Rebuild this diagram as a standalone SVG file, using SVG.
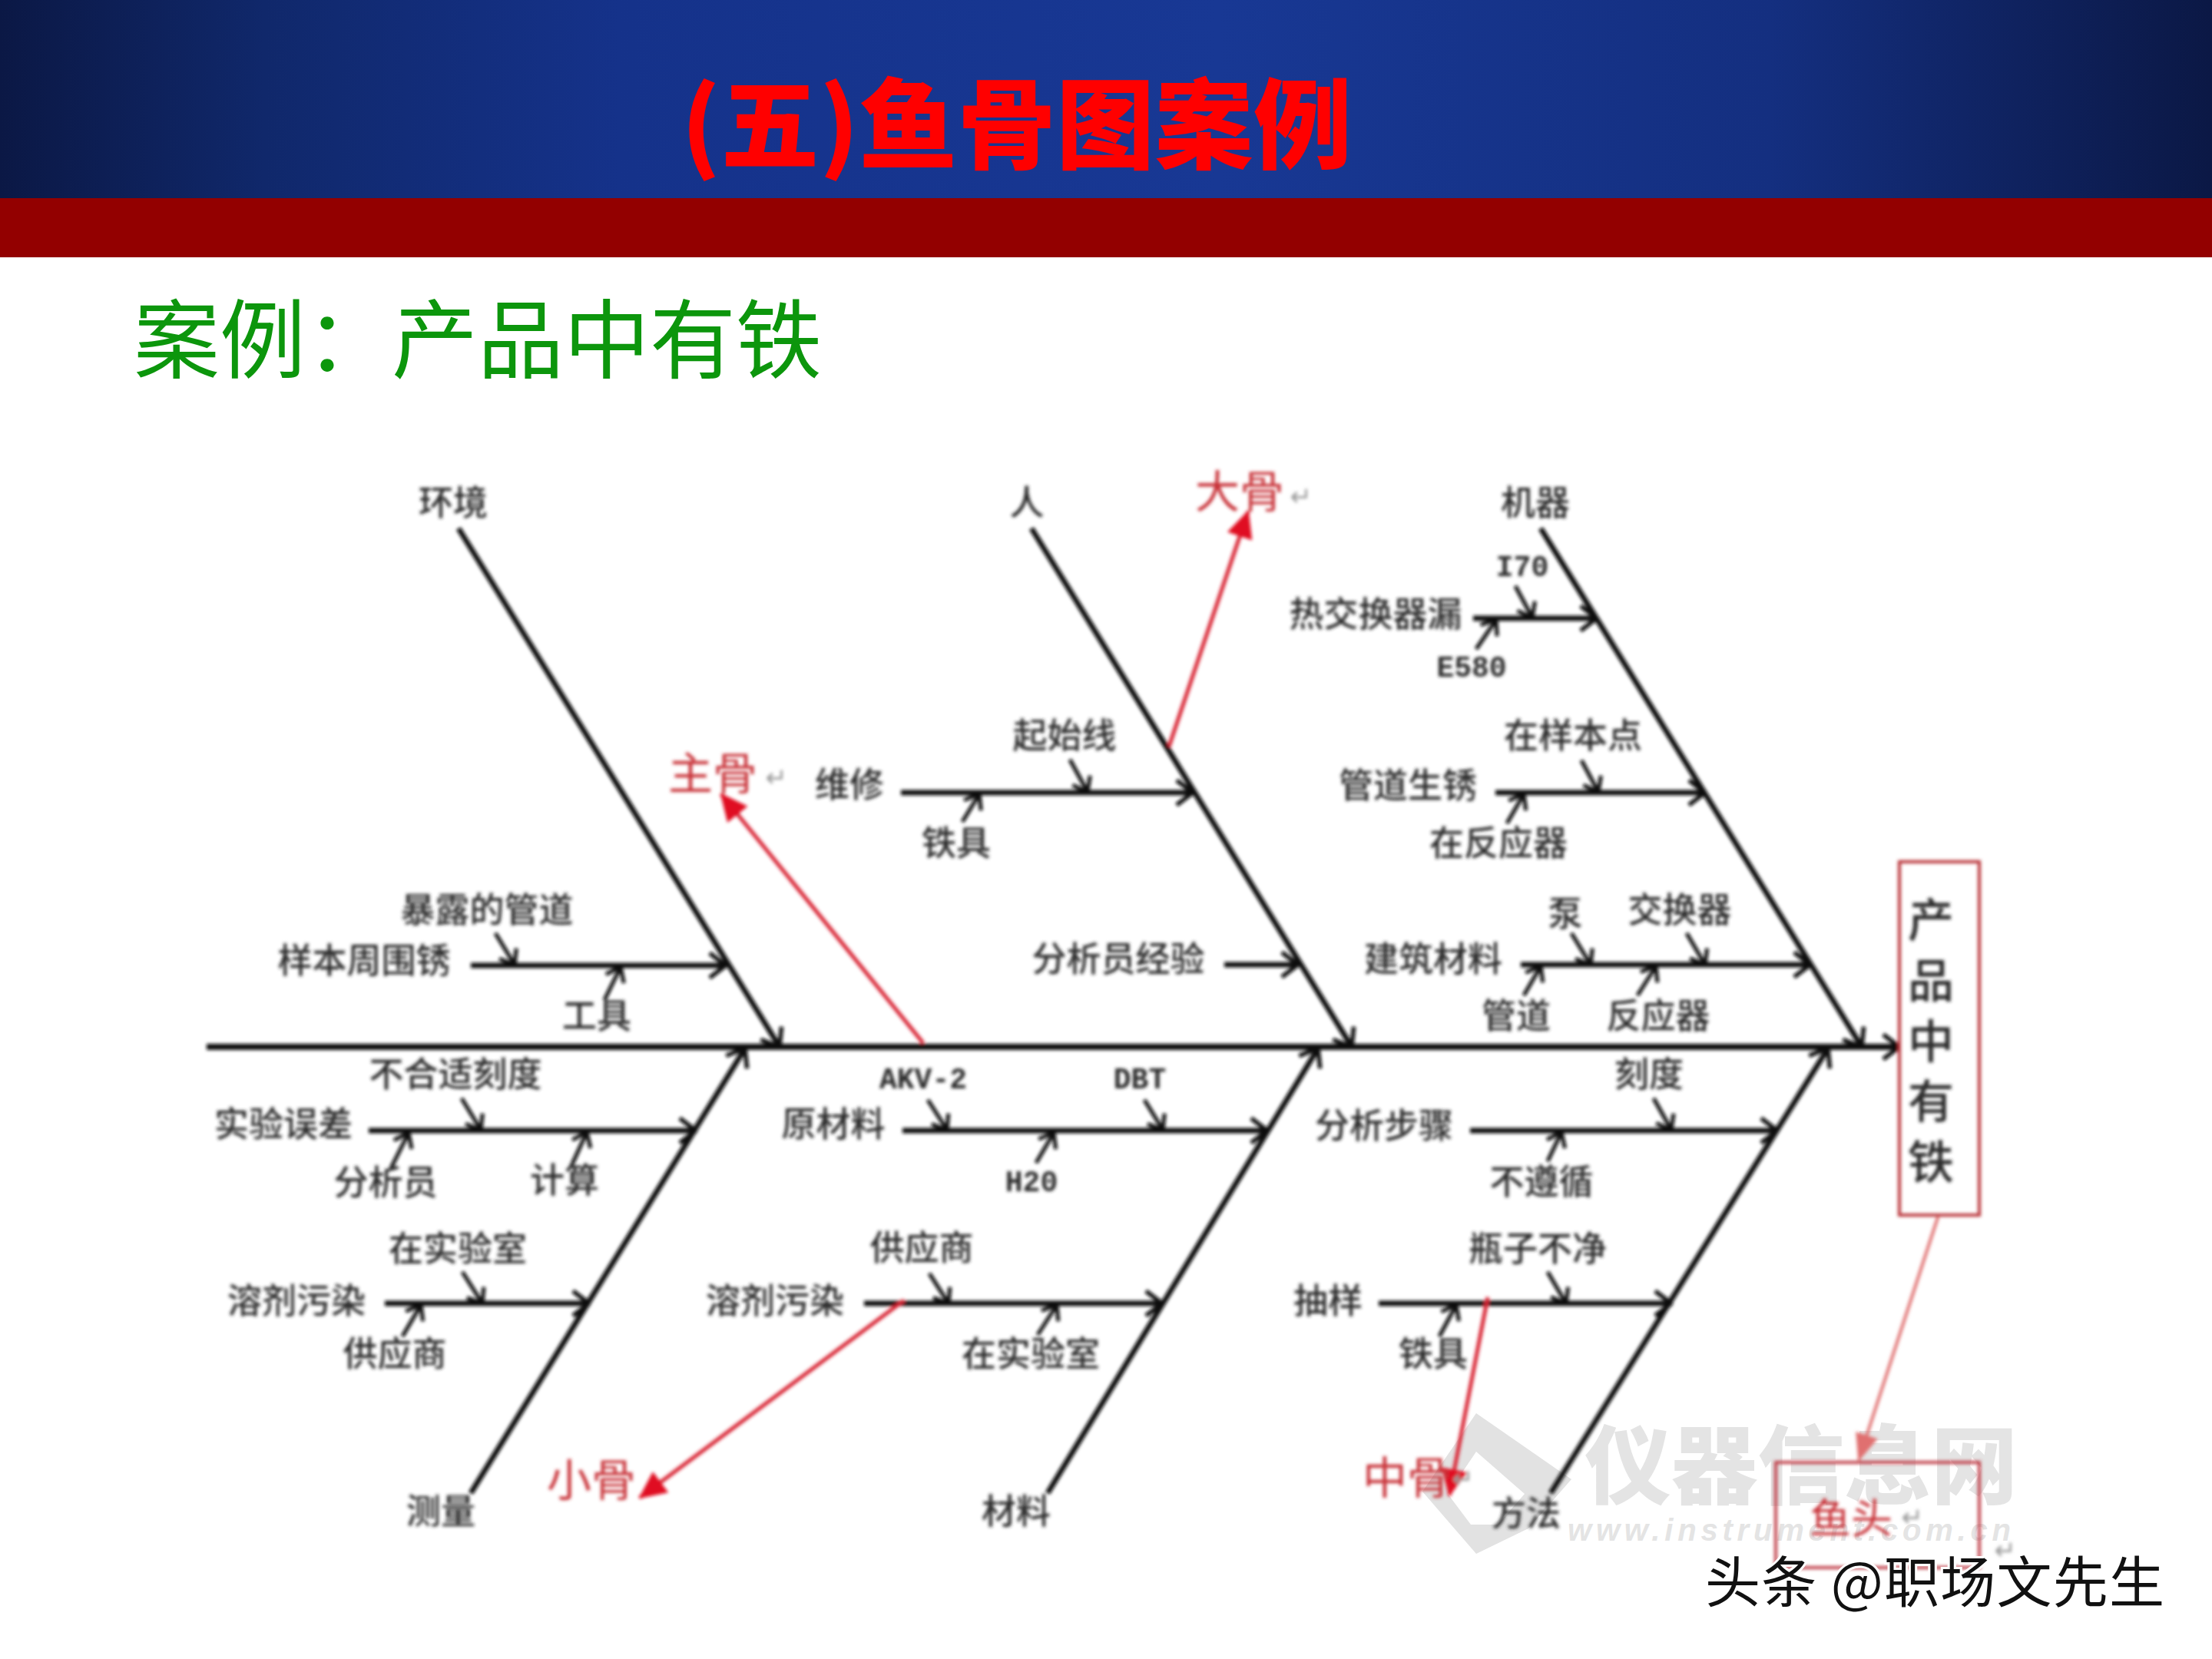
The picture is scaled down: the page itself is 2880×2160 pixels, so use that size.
<svg xmlns="http://www.w3.org/2000/svg" width="2880" height="2160" viewBox="0 0 2880 2160">
<defs>
<linearGradient id="hdr" x1="0" y1="0" x2="1" y2="0"><stop offset="0" stop-color="#0b1845"/><stop offset="0.12" stop-color="#10286b"/><stop offset="0.28" stop-color="#15328a"/><stop offset="0.55" stop-color="#183894"/><stop offset="0.8" stop-color="#142f80"/><stop offset="1" stop-color="#0b1845"/></linearGradient>
<filter id="soft" x="-2%" y="-2%" width="104%" height="104%"><feGaussianBlur stdDeviation="1.9"/></filter>
<marker id="open" viewBox="0 0 26 38" refX="24" refY="19" markerWidth="26" markerHeight="38" markerUnits="userSpaceOnUse" orient="auto"><path d="M3,3 L24,19 L3,35" fill="none" stroke="#111" stroke-width="5.5"/></marker>
<marker id="tick" viewBox="0 0 20 30" refX="19" refY="15" markerWidth="20" markerHeight="30" markerUnits="userSpaceOnUse" orient="auto"><path d="M2,2 L19,15 L2,28" fill="none" stroke="#111" stroke-width="5"/></marker>
<marker id="redhead" viewBox="0 0 36 34" refX="34" refY="17" markerWidth="36" markerHeight="34" markerUnits="userSpaceOnUse" orient="auto"><path d="M0,0 L36,17 L0,34 Z" fill="#e01020"/></marker>
<marker id="pinkhead" viewBox="0 0 36 30" refX="34" refY="15" markerWidth="36" markerHeight="30" markerUnits="userSpaceOnUse" orient="auto"><path d="M0,0 L36,15 L0,30 Z" fill="#e07070"/></marker>
</defs>
<style>
text{font-family:"Noto Sans CJK SC","Liberation Sans",sans-serif}
.l{font-size:45px;font-weight:500;fill:#2a2a2a;text-anchor:middle;dominant-baseline:central;transform:translate(-2px,-3px)}
.e{font-family:"Liberation Mono","Noto Sans CJK SC",monospace;font-size:38px;font-weight:bold;transform:translate(0,0)}
.r{font-size:58px;fill:#c83038;text-anchor:middle;dominant-baseline:central;transform:translate(0,-2px)}
.m{font-size:34px;fill:#999;text-anchor:middle;dominant-baseline:central;font-family:"DejaVu Sans",sans-serif}
.v{font-size:60px;font-weight:500;fill:#2a2a2a;text-anchor:middle;dominant-baseline:central;transform:translate(0,-4px)}
.b{fill:none;stroke:#111;stroke-width:7;marker-end:url(#open)}
.s{fill:none;stroke:#111;stroke-width:5;marker-end:url(#tick)}
.a{fill:none;stroke:#d82030;stroke-width:5;marker-end:url(#redhead)}
.w{fill:#e4e4e4;font-weight:900}
</style>
<rect width="2880" height="2160" fill="#fff"/>
<rect id="header-bar" width="2880" height="258" fill="url(#hdr)"/>
<rect id="header-stripe" y="258" width="2880" height="77" fill="#930000"/>
<text id="title" x="887" y="210" font-size="128" font-weight="900" fill="#ff0000" textLength="873">(五)鱼骨图案例</text>
<text id="subtitle" x="174" y="484" font-size="112" fill="#0c960c">案例：产品中有铁</text>

<g id="watermark">
<path d="M1922,1840 L2046,1926 L1990,1990 L1922,2023 L1852,1942 Z" fill="#e2e2e2"/>
<path d="M1922,1890 L1985,1945 L1950,1985 L1915,1985 L1885,1945 Z" fill="#fff"/>
<text class="w" x="2063" y="1950" font-size="112" textLength="564" lengthAdjust="spacingAndGlyphs">仪器信息网</text>
<text class="w" x="2041" y="2006" font-size="40" font-style="italic" textLength="577" style="font-family:'Liberation Sans',sans-serif">www.instrument.com.cn</text>
</g>

<g id="diagram" filter="url(#soft)">
<g id="connectors">
<path d="M269,1363 H2473" fill="none" stroke="#111" stroke-width="8" marker-end="url(#open)"/>
<path class="b" d="M597,688 L1015,1363"/><path class="b" d="M1343,688 L1760,1363"/><path class="b" d="M2006,688 L2424,1363"/>
<path class="b" d="M613,1944 L970,1365"/><path class="b" d="M1364,1944 L1716,1365"/><path class="b" d="M2019,1944 L2380,1365"/>
<path class="b" d="M613,1257 H945"/><path class="b" d="M1173,1032 H1553"/><path class="b" d="M1594,1256 H1690"/>
<path class="b" d="M1918,805 H2079"/><path class="b" d="M1947,1032 H2220"/><path class="b" d="M1980,1256 H2357"/>
<path class="b" d="M480,1472 H906"/><path class="b" d="M501,1697 H767"/><path class="b" d="M1175,1472 H1650"/>
<path class="b" d="M1125,1697 H1513"/><path class="b" d="M1914,1472 H2314"/><path class="b" d="M1795,1697 H2176"/>
<path class="s" d="M645,1215 L670,1256"/><path class="s" d="M787,1302 L808,1259"/><path class="s" d="M1393,989 L1416,1031"/>
<path class="s" d="M1253,1070 L1275,1034"/><path class="s" d="M1973,763 L1995,804"/><path class="s" d="M1922,845 L1948,807"/>
<path class="s" d="M2059,990 L2081,1031"/><path class="s" d="M1962,1072 L1984,1034"/><path class="s" d="M2046,1215 L2071,1256"/>
<path class="s" d="M2196,1215 L2220,1256"/><path class="s" d="M1984,1296 L2006,1258"/><path class="s" d="M2132,1296 L2156,1258"/>
<path class="s" d="M601,1430 L626,1471"/><path class="s" d="M509,1521 L532,1475"/><path class="s" d="M744,1518 L764,1474"/>
<path class="s" d="M602,1656 L628,1697"/><path class="s" d="M524,1740 L548,1699"/><path class="s" d="M1208,1432 L1233,1471"/>
<path class="s" d="M1490,1432 L1514,1471"/><path class="s" d="M1349,1514 L1372,1475"/><path class="s" d="M1210,1658 L1235,1697"/>
<path class="s" d="M1351,1738 L1376,1699"/><path class="s" d="M2153,1430 L2176,1471"/><path class="s" d="M2015,1512 L2033,1474"/>
<path class="s" d="M2015,1656 L2039,1697"/><path class="s" d="M1874,1740 L1896,1699"/>
<path class="a" d="M1202,1358 L939,1034"/><path class="a" d="M1522,972 L1625,666"/><path class="a" d="M1177,1693 L833,1950"/><path class="a" d="M1937,1689 L1887,1947"/>
<path d="M2524,1582 L2420,1901" fill="none" stroke="#e07070" stroke-width="4" marker-end="url(#pinkhead)"/>
</g>
<g id="n-huanjing"><text class="l" x="592" y="654">环境</text></g>
<g id="n-ren"><text class="l" x="1339" y="654">人</text></g>
<g id="n-jiqi"><text class="l" x="2001" y="654">机器</text></g>
<g id="n-celiang"><text class="l" x="576" y="1967">测量</text></g>
<g id="n-cailiao"><text class="l" x="1325" y="1967">材料</text></g>
<g id="n-fangfa"><text class="l" x="1989" y="1970">方法</text></g>
<g id="n-baolu"><text class="l" x="636" y="1184">暴露的管道</text></g>
<g id="n-yangben"><text class="l" x="476" y="1250">样本周围锈</text></g>
<g id="n-gongju"><text class="l" x="779" y="1322">工具</text></g>
<g id="n-weixiu"><text class="l" x="1108" y="1021">维修</text></g>
<g id="n-qishi"><text class="l" x="1388" y="957">起始线</text></g>
<g id="n-tieju1"><text class="l" x="1247" y="1097">铁具</text></g>
<g id="n-jingyan"><text class="l" x="1458" y="1248">分析员经验</text></g>
<g id="n-rejiao"><text class="l" x="1793" y="799">热交换器漏</text></g>
<g id="n-i70"><text class="l e" x="1982" y="739">I70</text></g>
<g id="n-e580"><text class="l e" x="1916" y="870">E580</text></g>
<g id="n-zaiyang"><text class="l" x="2050" y="957">在样本点</text></g>
<g id="n-guandao"><text class="l" x="1835" y="1022">管道生锈</text></g>
<g id="n-zaifan"><text class="l" x="1953" y="1097">在反应器</text></g>
<g id="n-beng"><text class="l" x="2040" y="1189">泵</text></g>
<g id="n-jiaohuan"><text class="l" x="2189" y="1184">交换器</text></g>
<g id="n-jianzhu"><text class="l" x="1868" y="1248">建筑材料</text></g>
<g id="n-gd2"><text class="l" x="1976" y="1322">管道</text></g>
<g id="n-fanying"><text class="l" x="2161" y="1322">反应器</text></g>
<g id="n-buheshi"><text class="l" x="595" y="1398">不合适刻度</text></g>
<g id="n-wucha"><text class="l" x="371" y="1463">实验误差</text></g>
<g id="n-fenxi"><text class="l" x="504" y="1539">分析员</text></g>
<g id="n-jisuan"><text class="l" x="737" y="1536">计算</text></g>
<g id="n-zaishi1"><text class="l" x="598" y="1625">在实验室</text></g>
<g id="n-rongji1"><text class="l" x="388" y="1693">溶剂污染</text></g>
<g id="n-gongying1"><text class="l" x="516" y="1762">供应商</text></g>
<g id="n-akv"><text class="l e" x="1202" y="1406">AKV-2</text></g>
<g id="n-dbt"><text class="l e" x="1484" y="1406">DBT</text></g>
<g id="n-yuan"><text class="l" x="1087" y="1463">原材料</text></g>
<g id="n-h2o"><text class="l e" x="1343" y="1540">H20</text></g>
<g id="n-gongying2"><text class="l" x="1202" y="1624">供应商</text></g>
<g id="n-rongji2"><text class="l" x="1011" y="1693">溶剂污染</text></g>
<g id="n-zaishi2"><text class="l" x="1344" y="1762">在实验室</text></g>
<g id="n-kedu"><text class="l" x="2149" y="1398">刻度</text></g>
<g id="n-buzhou"><text class="l" x="1804" y="1465">分析步骤</text></g>
<g id="n-buzun"><text class="l" x="2009" y="1538">不遵循</text></g>
<g id="n-pingzi"><text class="l" x="2004" y="1625">瓶子不净</text></g>
<g id="n-chouyang"><text class="l" x="1731" y="1693">抽样</text></g>
<g id="n-tieju2"><text class="l" x="1868" y="1762">铁具</text></g>
<g id="n-zhugu"><text class="r" x="928" y="1005">主骨</text><text class="m" x="1011" y="1012">↵</text></g>
<g id="n-dagu"><text class="r" x="1614" y="638">大骨</text><text class="m" x="1694" y="646">↵</text></g>
<g id="n-xiaogu"><text class="r" x="770" y="1925">小骨</text></g>
<g id="n-zhonggu"><text class="r" x="1832" y="1922">中骨</text><text class="m" x="1905" y="1925">↵</text></g>
<g id="n-head"><rect x="2473" y="1122" width="104" height="460" fill="none" stroke="#b83038" stroke-width="4"/>
<text class="v" x="2514" y="1197">产</text><text class="v" x="2514" y="1276">品</text><text class="v" x="2514" y="1355">中</text><text class="v" x="2514" y="1433">有</text><text class="v" x="2514" y="1512">铁</text></g>
<g id="n-yutou"><rect x="2312" y="1904" width="265" height="137" fill="none" stroke="#c04048" stroke-width="4"/>
<text class="r" x="2410" y="1975" style="font-size:54px">鱼头</text><text class="m" x="2490" y="1975">↵</text><text class="m" x="2611" y="2018">↵</text></g>
</g>
<text id="credit" x="2220" y="2086" font-size="72" fill="#111" stroke="#fff" stroke-width="6" paint-order="stroke" textLength="598">头条 @职场文先生</text>
</svg>
